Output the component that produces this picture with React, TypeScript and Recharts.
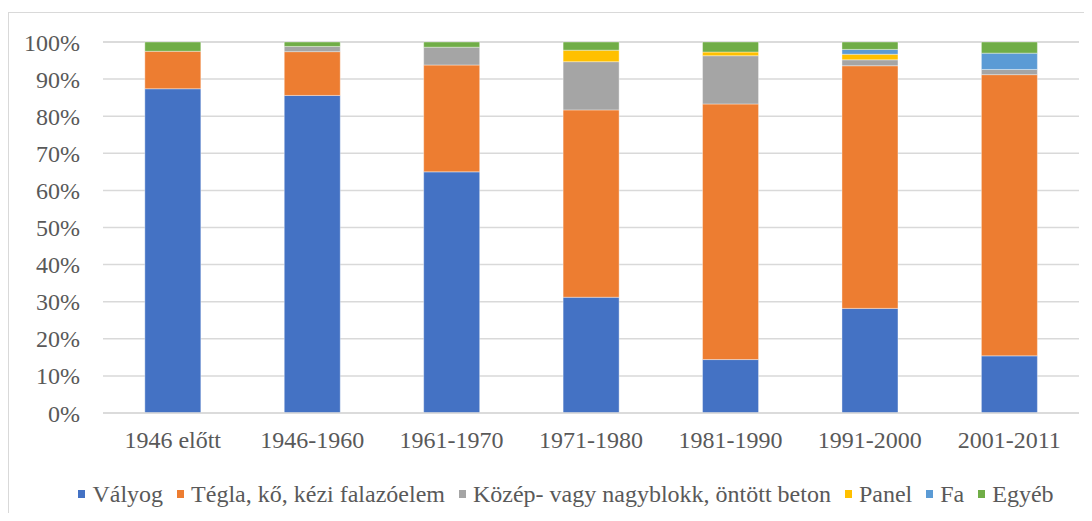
import { BarChart, Bar, XAxis, YAxis, CartesianGrid, Legend } from "recharts";

const periods = ["1946 előtt", "1946-1960", "1961-1970", "1971-1980", "1981-1990", "1991-2000", "2001-2011"];
const valyog = [87.4, 85.6, 65.0, 31.2, 14.4, 28.2, 15.4];
const tegla = [10.1, 11.8, 28.8, 50.5, 68.9, 65.4, 75.8];
const kozep = [0, 1.4, 4.8, 13.0, 13.0, 1.6, 1.4];
const panel = [0, 0, 0, 3.1, 1.0, 1.5, 0];
const fa = [0, 0, 0, 0, 0, 1.3, 4.4];
const egyeb = [2.5, 1.2, 1.4, 2.2, 2.7, 2.0, 3.0];
const yTicks = [0, 10, 20, 30, 40, 50, 60, 70, 80, 90, 100];

const series = [
  { key: "valyog", name: "Vályog", color: "#4472C4" },
  { key: "tegla", name: "Tégla, kő, kézi falazóelem", color: "#ED7D31" },
  { key: "kozep", name: "Közép- vagy nagyblokk, öntött beton", color: "#A5A5A5" },
  { key: "panel", name: "Panel", color: "#FFC000" },
  { key: "fa", name: "Fa", color: "#5B9BD5" },
  { key: "egyeb", name: "Egyéb", color: "#70AD47" },
];

const data = periods.map((p, i) => ({
  period: p,
  valyog: valyog[i],
  tegla: tegla[i],
  kozep: kozep[i],
  panel: panel[i],
  fa: fa[i],
  egyeb: egyeb[i],
}));

const font = "Liberation Serif, Times New Roman, serif";

function LegendBox() {
  return (
    <div
      style={{
        display: "flex",
        justifyContent: "center",
        paddingLeft: 44,
        height: 30,
        alignItems: "center",
      }}
    >
      {series.map((s, i) => (
        <span
          key={s.key}
          style={{ display: "flex", alignItems: "center", marginRight: i === series.length - 1 ? 0 : 14 }}
        >
          <span style={{ width: 7, height: 8, background: s.color, marginRight: 7, display: "inline-block" }} />
          <span style={{ fontFamily: font, fontSize: 24, color: "#595959", whiteSpace: "nowrap" }}>{s.name}</span>
        </span>
      ))}
    </div>
  );
}

export default function App() {
  return (
    <div
      style={{
        marginTop: 4,
        borderTop: "1px solid #d9d9d9",
        borderLeft: "1px solid #d9d9d9",
        width: 1076,
        background: "#fff",
        fontFamily: font,
      }}
    >
      <BarChart
        width={1076}
        height={500}
        data={data}
        margin={{ top: 29, right: 6, bottom: 4, left: 0 }}
        barCategoryGap="30%"
      >
        <CartesianGrid vertical={false} stroke="#d9d9d9" strokeWidth={1.5} />
        <XAxis
          dataKey="period"
          height={66}
          tickLine={false}
          tickSize={0}
          tickMargin={18}
          axisLine={{ stroke: "#d9d9d9", strokeWidth: 1.5 }}
          tick={{ fill: "#595959", fontSize: 24, fontFamily: font }}
        />
        <YAxis
          width={94}
          domain={[0, 100]}
          ticks={yTicks}
          tickFormatter={(v) => `${v}%`}
          axisLine={false}
          tickLine={false}
          tickSize={0}
          tickMargin={23}
          tick={{ fill: "#595959", fontSize: 24, fontFamily: font }}
        />
        <Legend verticalAlign="bottom" height={30} content={() => <LegendBox />} />
        {series.map((s) => (
          <Bar
            key={s.key}
            dataKey={s.key}
            name={s.name}
            stackId="a"
            fill={s.color}
            stroke="#ffffff"
            strokeOpacity={0.5}
            strokeWidth={0.75}
            isAnimationActive={false}
          />
        ))}
      </BarChart>
    </div>
  );
}
